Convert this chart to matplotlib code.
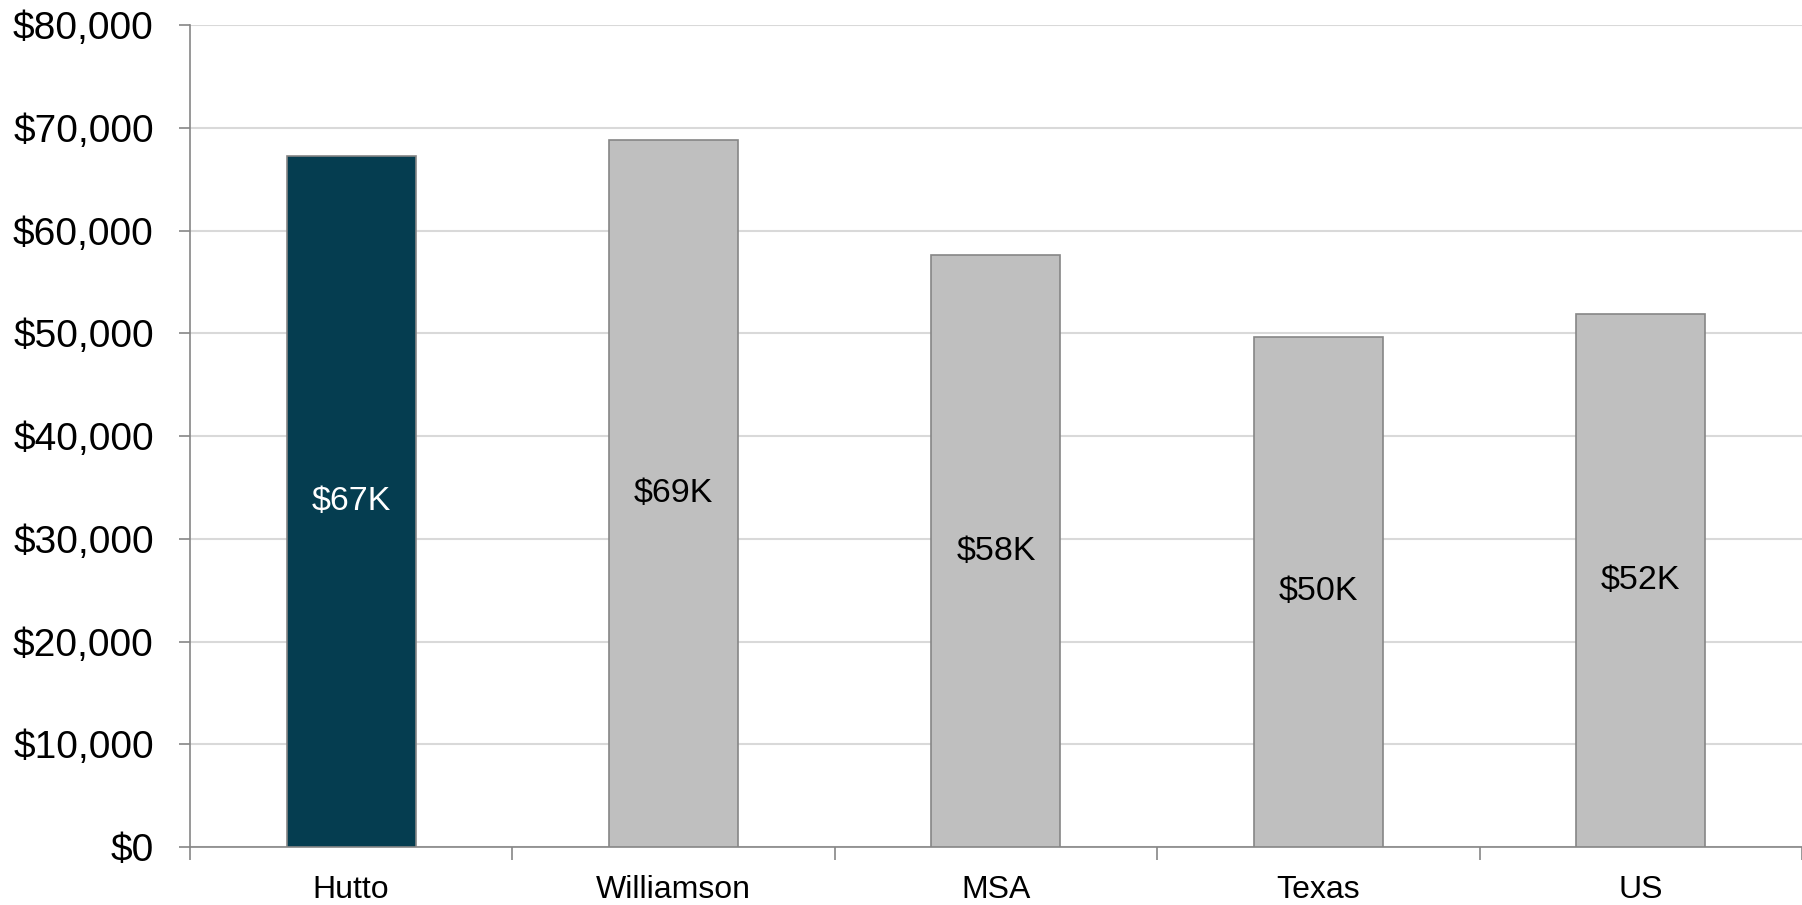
import numpy as np
import matplotlib.pyplot as plt
from matplotlib.ticker import FuncFormatter, FixedLocator

# dati
categories = ['Hutto', 'Williamson', 'MSA', 'Texas', 'US']
income = [67300, 68800, 57600, 49700, 51900]
labels = ['$67K', '$69K', '$58K', '$50K', '$52K']

BAR_COLORS = ['#053d50', '#bfbfbf', '#bfbfbf', '#bfbfbf', '#bfbfbf']
TEXT_COLORS = ['white', 'black', 'black', 'black', 'black']
GRID_COLOR = '#d9d9d9'
AXIS_COLOR = '#868686'

plt.rcParams['font.family'] = ['Liberation Sans', 'DejaVu Sans']

fig = plt.figure(figsize=(18.02, 9.05), dpi=100)
ax = fig.add_axes([0.1054, 0.064, 0.8946, 0.908])

x = np.arange(len(categories))
bars = ax.bar(x, income, width=0.40, color=BAR_COLORS,
              edgecolor=AXIS_COLOR, linewidth=1.2, zorder=3)

for b, lab, col in zip(bars, labels, TEXT_COLORS):
    ax.text(b.get_x() + b.get_width() / 2, b.get_height() / 2, lab,
            ha='center', va='center', fontsize=24.5, color=col, zorder=4)

ax.set_xlim(-0.5, len(categories) - 0.5)
ax.set_ylim(0, 80000)
ax.set_yticks(np.arange(0, 80001, 10000))
ax.yaxis.set_major_formatter(FuncFormatter(lambda v, p: f'${v:,.0f}'))

ax.set_xticks(x)
ax.set_xticklabels(categories, fontsize=23)
ax.xaxis.set_minor_locator(FixedLocator(np.arange(-0.5, len(categories), 1.0)))
ax.tick_params(axis='x', which='major', length=0, pad=20)
ax.tick_params(axis='x', which='minor', length=9, width=1.2, color=AXIS_COLOR)
ax.tick_params(axis='y', length=8, width=1.2, color=AXIS_COLOR, labelsize=28, pad=18)

ax.grid(axis='y', color=GRID_COLOR, linewidth=1.5, zorder=0)
ax.set_axisbelow(True)
for side in ['top', 'right']:
    ax.spines[side].set_visible(False)
for side in ['left', 'bottom']:
    ax.spines[side].set_color(AXIS_COLOR)
    ax.spines[side].set_linewidth(1.2)

fig.savefig('out.png', dpi=100)
